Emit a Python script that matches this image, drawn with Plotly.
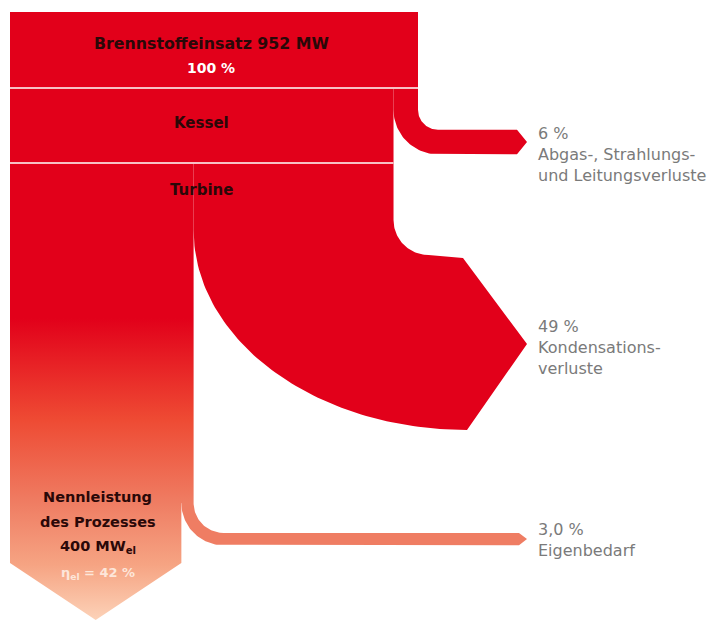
import numpy as np
import plotly.graph_objects as go

# ---- data (percent of fuel input) ----
stages = ["Brennstoffeinsatz 952 MW", "Kessel", "Turbine"]
fuel_input_mw = 952
output_mw = 400
pct_input = 100
pct_kessel_loss = 6
pct_condensation = 49
pct_own_use = 3.0
pct_efficiency = 42
loss_pct_labels = ["6 %", "49 %", "3,0 %"]
loss_names = [["Abgas-, Strahlungs-", "und Leitungsverluste"],
              ["Kondensations-", "verluste"],
              ["Eigenbedarf"]]

# ---- layout constants (pixel space; page body has an 8px margin) ----
W, H = 719, 621
PAD = 8
X0 = 10.0
S = 4.08            # px per percent
Y_TOP, Y_K, Y_T = 12.0, 88.0, 163.0
TIP_X = 527.0
RED = "#e2001a"
SALMON = "#ef7d63"

def arc(cx, cy, rx, ry, a0, a1, n=40):
    t = np.radians(np.linspace(a0, a1, n))
    return list(cx + rx * np.cos(t)), list(cy + ry * np.sin(t))

x_full = X0 + pct_input * S
x_after_k = x_full - pct_kessel_loss * S
x_left = X0 + (pct_efficiency + pct_own_use) * S
x_net = X0 + pct_efficiency * S

fig = go.Figure()

def poly(xs, ys, color, grad=None):
    kw = dict(x=xs, y=ys, mode="lines", fill="toself", line=dict(width=0, color=color),
              fillcolor=color, hoverinfo="skip", showlegend=False)
    if grad is not None:
        kw["fillgradient"] = grad
    fig.add_trace(go.Scatter(**kw))

# top block (100 %)
poly([X0, x_full, x_full, X0, X0], [Y_TOP, Y_TOP, Y_K, Y_K, Y_TOP], RED)
# Kessel row
poly([X0, x_after_k, x_after_k, X0, X0], [Y_K, Y_K, Y_T, Y_T, Y_K], RED)

# Kessel loss branch
wk = pct_kessel_loss * S
r_in = 20.0
cy0 = 109.8
cx0 = x_full + r_in
xs = [x_after_k, x_full, x_full]
ys = [Y_K, Y_K, cy0]
ax, ay = arc(cx0, cy0, r_in, r_in, 180, 90)
xs += ax; ys += ay
ytop = cy0 + r_in
ybot = ytop + wk
xs += [TIP_X - 10, TIP_X, TIP_X - 10]
ys += [ytop, (ytop + ybot) / 2, ybot]
ax, ay = arc(cx0, cy0, r_in + wk, r_in + wk, 90, 180)
xs += ax; ys += ay
xs += [x_after_k]; ys += [Y_K]
poly(xs, ys, RED)

# condensation branch
r_c = 35.0
yc0 = 220.0
xs = [x_left, x_after_k, x_after_k]
ys = [Y_T, Y_T, yc0]
ax, ay = arc(x_after_k + r_c, yc0, r_c, r_c, 180, 90)
xs += ax; ys += ay
xs += [463, TIP_X, 467]
ys += [258, 344, 430]
ax, ay = arc(467, 230, 467 - x_left, 200, 90, 180, 80)
xs += ax; ys += ay
xs += [x_left]; ys += [Y_T]
poly(xs, ys, RED)

# left column (gradient)
y_split = 503.0
y_chev = 563.0
y_tipb = 620.0
grad = dict(type="vertical", start=Y_T, stop=y_tipb,
            colorscale=[[0, RED], [0.34, RED], [0.56, "#ee4a33"],
                        [0.744, SALMON], [0.88, "#f6a483"], [1, "#fcd2b8"]])
poly([X0, x_left, x_left, x_net, x_net, (X0 + x_net) / 2, X0, X0],
     [Y_T, Y_T, y_split, y_split, y_chev, y_tipb, y_chev, Y_T], RED, grad)

# own-use branch
we = pct_own_use * S
r_e = 30.0
xs = [x_net, x_left]
ys = [y_split, y_split]
ax, ay = arc(x_left + r_e, y_split, r_e, r_e, 180, 90)
xs += ax; ys += ay
ytop = y_split + r_e
ybot = ytop + we
xs += [TIP_X - 8, TIP_X, TIP_X - 8]
ys += [ytop, (ytop + ybot) / 2, ybot]
ax, ay = arc(x_left + r_e, y_split, r_e + we, r_e + we, 90, 180)
xs += ax; ys += ay
xs += [x_net]; ys += [y_split]
poly(xs, ys, SALMON)

# separator lines
for y, x1 in [(Y_K, x_full), (Y_T, x_after_k)]:
    fig.add_shape(type="line", x0=X0, x1=x1, y0=y, y1=y, xref="x", yref="y",
                  line=dict(color="#f7c0c4", width=2))

DARK = "#2a0808"
BF = "DejaVu Sans"

def txt(x, y, s, color=DARK, size=15, bold=True, anchor="center", family=BF):
    fig.add_annotation(x=x, y=y, xref="x", yref="y", showarrow=False,
                       text=f"<b>{s}</b>" if bold else s, xanchor=anchor, yanchor="middle",
                       font=dict(family=family, size=size, color=color))

cx_top = (X0 + x_full) / 2 - 3
cx_mid = (X0 + x_after_k) / 2
txt(cx_top, 43, stages[0].replace("952", str(fuel_input_mw)), size=15.8)
txt(cx_top, 68, f"{pct_input} %", color="white", size=14)
txt(cx_mid, 123, stages[1])
txt(cx_mid, 190, stages[2])

cx_l = (X0 + x_net) / 2 + 2
txt(cx_l, 497, "Nennleistung", size=14.5)
txt(cx_l, 522, "des Prozesses", size=14.5)
txt(cx_l, 547, f"{output_mw} MW<sub>el</sub>", size=14.5)
txt(cx_l, 573, f"η<sub>el</sub> = {pct_efficiency} %", color="#fde6da", size=13)

GREY = "#7a7a7a"
LF = "DejaVu Sans"
label_y = [133, 326, 529]
for i, (p, names) in enumerate(zip(loss_pct_labels, loss_names)):
    y = label_y[i]
    txt(536, y, p, color=GREY, size=16, bold=False, anchor="left", family=LF)
    for j, n in enumerate(names):
        txt(536, y + 21 * (j + 1), n, color=GREY, size=16, bold=False, anchor="left", family=LF)

fig.update_xaxes(range=[PAD, W], visible=False, fixedrange=True)
fig.update_yaxes(range=[H, PAD], visible=False, fixedrange=True)
fig.update_layout(width=W - PAD, height=H - PAD, autosize=False,
                  margin=dict(l=0, r=0, t=0, b=0),
                  paper_bgcolor="white", plot_bgcolor="white")
fig.write_html("out.html")
